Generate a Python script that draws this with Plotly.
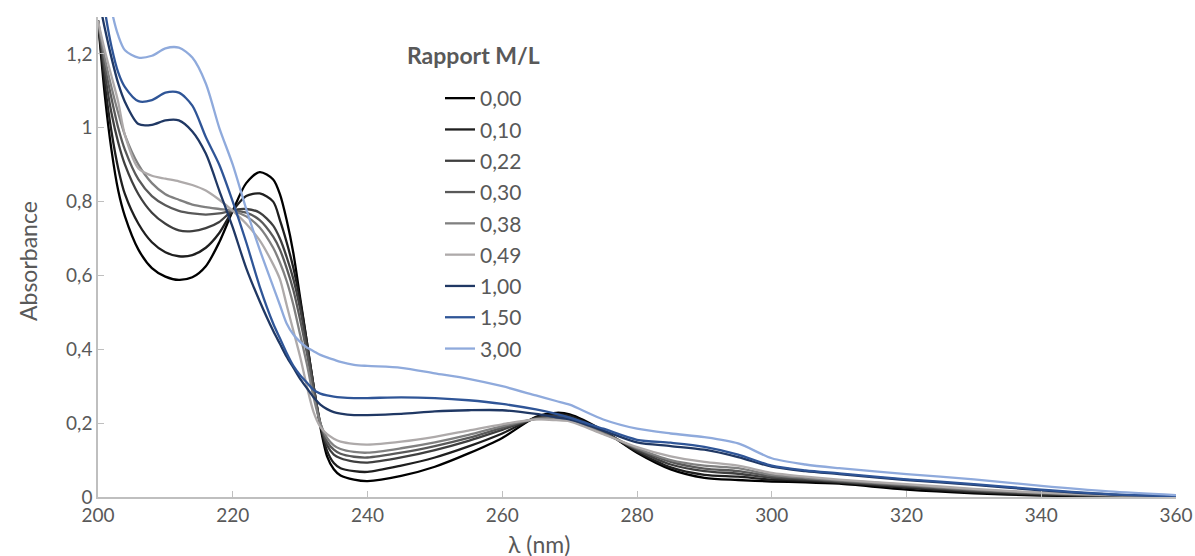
import plotly.graph_objects as go

wavelength = [200, 201, 202, 203, 204, 206, 208, 210, 212, 214, 216, 218, 220, 222, 224,
              226, 227, 228, 229, 230, 231, 232, 233, 234, 235, 236, 238, 240, 245, 250,
              255, 260, 265, 268, 270, 275, 280, 285, 290, 295, 300, 305, 310, 320, 330,
              340, 350, 360]

ratio_labels = ["0,00", "0,10", "0,22", "0,30", "0,38", "0,49", "1,00", "1,50", "3,00"]

abs_000 = [1.29, 1.09, 0.94, 0.83, 0.76, 0.67, 0.62, 0.597, 0.588, 0.595, 0.625, 0.69, 0.775, 0.85, 0.88,
           0.86, 0.82, 0.75, 0.66, 0.54, 0.42, 0.30, 0.19, 0.11, 0.075, 0.058, 0.047, 0.043, 0.057, 0.082,
           0.118, 0.16, 0.217, 0.228, 0.224, 0.18, 0.12, 0.075, 0.052, 0.046, 0.042, 0.040, 0.036, 0.020, 0.010,
           0.004, 0.001, 0.0]
abs_010 = [1.29, 1.12, 0.99, 0.89, 0.82, 0.74, 0.69, 0.663, 0.652, 0.655, 0.675, 0.715, 0.775, 0.815, 0.822,
           0.80, 0.75, 0.69, 0.62, 0.53, 0.42, 0.30, 0.195, 0.125, 0.092, 0.078, 0.070, 0.068, 0.085, 0.107,
           0.137, 0.172, 0.215, 0.224, 0.220, 0.178, 0.123, 0.080, 0.060, 0.055, 0.047, 0.044, 0.039, 0.025, 0.013,
           0.006, 0.002, 0.0]
abs_022 = [1.29, 1.15, 1.04, 0.96, 0.90, 0.82, 0.77, 0.74, 0.722, 0.72, 0.728, 0.745, 0.775, 0.78, 0.77,
           0.735, 0.70, 0.65, 0.59, 0.51, 0.41, 0.30, 0.20, 0.14, 0.115, 0.105, 0.096, 0.093, 0.107, 0.127,
           0.152, 0.182, 0.213, 0.220, 0.216, 0.176, 0.127, 0.088, 0.070, 0.063, 0.052, 0.047, 0.041, 0.028, 0.016,
           0.008, 0.003, 0.001]
abs_030 = [1.29, 1.17, 1.08, 1.00, 0.94, 0.86, 0.815, 0.79, 0.775, 0.768, 0.765, 0.768, 0.775, 0.77, 0.75,
           0.705, 0.67, 0.62, 0.56, 0.48, 0.39, 0.29, 0.20, 0.15, 0.128, 0.117, 0.109, 0.107, 0.12, 0.138,
           0.16, 0.187, 0.212, 0.216, 0.212, 0.174, 0.13, 0.095, 0.077, 0.070, 0.056, 0.050, 0.043, 0.031, 0.018,
           0.010, 0.004, 0.001]
abs_038 = [1.29, 1.19, 1.11, 1.04, 0.98, 0.90, 0.85, 0.82, 0.805, 0.792, 0.785, 0.78, 0.775, 0.76, 0.73,
           0.675, 0.635, 0.585, 0.52, 0.44, 0.36, 0.27, 0.20, 0.16, 0.14, 0.13, 0.122, 0.12, 0.132, 0.148,
           0.168, 0.192, 0.211, 0.212, 0.208, 0.172, 0.132, 0.10, 0.085, 0.078, 0.060, 0.052, 0.045, 0.033, 0.020,
           0.011, 0.005, 0.002]
abs_049 = [1.29, 1.21, 1.14, 1.07, 0.98, 0.89, 0.87, 0.862, 0.855, 0.845, 0.83, 0.805, 0.775, 0.74, 0.695,
           0.63, 0.59, 0.52, 0.45, 0.38, 0.30, 0.23, 0.19, 0.17, 0.158, 0.15, 0.144, 0.142, 0.15, 0.163,
           0.18, 0.197, 0.21, 0.208, 0.205, 0.17, 0.135, 0.11, 0.095, 0.085, 0.065, 0.055, 0.047, 0.035, 0.022,
           0.012, 0.006, 0.002]
abs_100 = [1.36, 1.27, 1.19, 1.12, 1.07, 1.01, 1.008, 1.02, 1.02, 0.99, 0.93, 0.83, 0.73, 0.62, 0.53,
           0.45, 0.415, 0.38, 0.35, 0.32, 0.295, 0.27, 0.25, 0.238, 0.23, 0.226, 0.222, 0.222, 0.225, 0.232,
           0.235, 0.235, 0.225, 0.216, 0.21, 0.18, 0.148, 0.138, 0.128, 0.108, 0.082, 0.070, 0.062, 0.046, 0.033,
           0.018, 0.007, 0.002]
abs_150 = [1.45, 1.32, 1.22, 1.15, 1.11, 1.072, 1.075, 1.095, 1.095, 1.06, 0.975, 0.90, 0.80, 0.69, 0.57,
           0.47, 0.43, 0.39, 0.355, 0.33, 0.31, 0.29, 0.28, 0.275, 0.272, 0.27, 0.268, 0.268, 0.27, 0.268,
           0.262, 0.252, 0.237, 0.225, 0.215, 0.185, 0.155, 0.147, 0.136, 0.115, 0.085, 0.072, 0.064, 0.048, 0.035,
           0.020, 0.008, 0.002]
abs_300 = [1.60, 1.43, 1.32, 1.25, 1.21, 1.19, 1.195, 1.215, 1.217, 1.19, 1.12, 1.00, 0.90, 0.78, 0.67,
           0.57, 0.52, 0.47, 0.44, 0.42, 0.405, 0.395, 0.385, 0.378, 0.372, 0.366, 0.358, 0.355, 0.35, 0.335,
           0.32, 0.30, 0.275, 0.26, 0.25, 0.21, 0.185, 0.172, 0.162, 0.145, 0.105, 0.088, 0.078, 0.062, 0.048,
           0.030, 0.015, 0.005]

series = [abs_000, abs_010, abs_022, abs_030, abs_038, abs_049, abs_100, abs_150, abs_300]
colors = ["#000000", "#1f1f1f", "#3f3f3f", "#595959", "#808080", "#aeaaaa",
          "#203864", "#2f5597", "#8faadc"]

FONT = "Lato"
TXT = "#595959"

fig = go.Figure()
for i, (lab, ys, col) in enumerate(zip(ratio_labels, series, colors)):
    fig.add_trace(go.Scatter(
        x=wavelength, y=ys, name=lab, mode="lines",
        line=dict(color=col, width=2.3, shape="spline", smoothing=0.8),
        legendgroup=f"g{i}",
    ))

W, H = 1195, 556
L, R, T, B = 98, 19, 17, 59
pw, ph = W - L - R, H - T - B

fig.update_layout(
    width=W, height=H,
    margin=dict(l=L, r=R, t=T, b=B, autoexpand=False),
    paper_bgcolor="white", plot_bgcolor="white",
    separators=", ",
    font=dict(family=FONT, size=19, color=TXT),
    showlegend=True,
    legend=dict(
        x=(440 - L) / pw, y=(497 - 78) / ph, xanchor="left", yanchor="top",
        font=dict(family=FONT, size=21, color=TXT),
        tracegroupgap=1, bgcolor="rgba(0,0,0,0)",
    ),
    xaxis=dict(
        range=[200, 360], tickvals=[200, 220, 240, 260, 280, 300, 320, 340, 360],
        showgrid=False, zeroline=False, showline=True, linecolor="#bfbfbf", linewidth=1.5,
        ticks="inside", ticklen=6, tickcolor="#bfbfbf", automargin=False,
        tickfont=dict(family=FONT, size=19, color=TXT),
    ),
    yaxis=dict(
        range=[0, 1.3], tickvals=[0, 0.2, 0.4, 0.6, 0.8, 1.0, 1.2],
        showgrid=False, zeroline=False, showline=True, linecolor="#bfbfbf", linewidth=1.5,
        ticks="inside", ticklen=6, tickcolor="#bfbfbf", automargin=False,
        tickfont=dict(family=FONT, size=19, color=TXT),
    ),
    annotations=[
        dict(text="<b>Rapport M/L</b>", x=(405 - L) / pw, y=(497 - 55) / ph,
             xref="paper", yref="paper", xanchor="left", yanchor="middle",
             showarrow=False, font=dict(family=FONT, size=23, color=TXT)),
        dict(text="λ (nm)", x=(539 - L) / pw, y=(497 - 544) / ph,
             xref="paper", yref="paper", xanchor="center", yanchor="middle",
             showarrow=False, font=dict(family=FONT, size=23, color=TXT)),
        dict(text="Absorbance", x=(28 - L) / pw, y=(497 - 261) / ph, textangle=-90,
             xref="paper", yref="paper", xanchor="center", yanchor="middle",
             showarrow=False, font=dict(family=FONT, size=23, color=TXT)),
    ],
)

fig.write_html("out.html", config={"displayModeBar": False},
               post_script="document.body.style.margin='0px';")
